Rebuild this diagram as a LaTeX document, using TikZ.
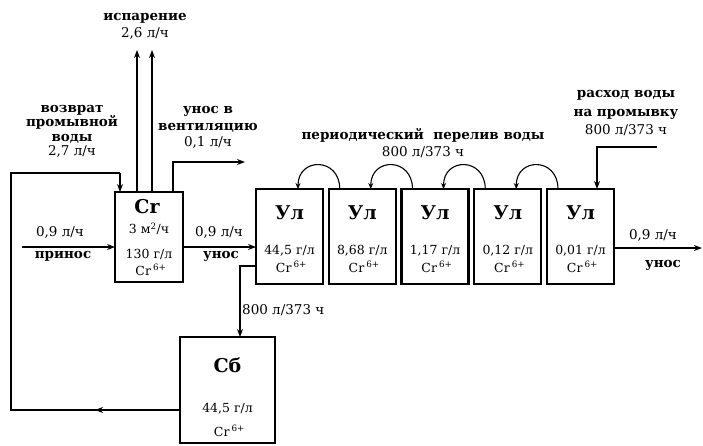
\documentclass[tikz,border=0pt]{standalone}
\usepackage{fontspec}
\setmainfont{DejaVu Serif}
\usetikzlibrary{arrows.meta,calc}
\begin{document}
\begin{tikzpicture}[x=1pt,y=-1pt,
  box/.style={draw,line width=2.2pt,inner sep=0pt,outer sep=0pt,anchor=north west},
  ln/.style={line width=1.2pt},
  arr/.style={line width=1.2pt,-{Stealth[length=8pt,width=6pt]}},
  arcarr/.style={line width=1.1pt,-{Stealth[length=6pt,width=5pt]}},
  big/.style={font=\fontsize{19}{21}\selectfont\bfseries,inner sep=0pt},
  val/.style={font=\fontsize{12.5}{14}\selectfont,inner sep=0pt},
  lab/.style={font=\fontsize{13.5}{15}\selectfont\bfseries,inner sep=0pt,align=center},
  num/.style={font=\fontsize{13.5}{15}\selectfont,inner sep=0pt}
]
\useasboundingbox (0,0) rectangle (703,445);

% boxes
\node[box,minimum width=68pt,minimum height=90pt] (cr) at (115,192) {};
\foreach \i/\x in {1/256,2/328.75,3/401.5,4/474.25,5/547}
  \node[box,minimum width=67pt,minimum height=95pt] (u\i) at (\x,189) {};
\node[box,minimum width=95pt,minimum height=106pt] (sb) at (180,337) {};

% box texts
\node[big] (tcr) at (147,207) {Cr};
\node[val] (cr1) at (149,229) {3 м\textsuperscript{2}/ч};
\node[val] (cr2) at (149,254) {130 г/л};
\node[val] (cr3) at (151,270) {Cr\,\textsuperscript{6+}};
\foreach \i/\x/\v in {1/289.5/{44,5},2/362.25/{8,68},3/435/{1,17},4/507.75/{0,12},5/580.5/{0,01}}{
  \node[big] (tu\i) at (\x,213) {Ул};
  \node[val] (vu\i) at (\x,251) {\v\ г/л};
  \node[val] (cu\i) at (\x+2,267) {Cr\,\textsuperscript{6+}};
}
\node[big] (tsb) at (227.5,365) {Сб};
\node[val] (vsb) at (227.5,409) {44,5 г/л};
\node[val] (csb) at (229.5,431) {Cr\,\textsuperscript{6+}};

% input
\coordinate (in) at (22,247);
\draw[arr] (in) -- (in -| cr.west);
\node[num] (lin1) at (60,232) {0,9 л/ч};
\node[lab] (lin2) at (63,256) {принос};

% Cr -> u1
\coordinate (m1) at (183,247);
\draw[arr] (m1 -| cr.east) -- (m1 -| u1.west);
\node[num] (lm1) at (219,232) {0,9 л/ч};
\node[lab] (lm2) at (221,256) {унос};

% evaporation
\coordinate (ev1) at (137,50);
\coordinate (ev2) at (152,50);
\draw[arr] (ev1 |- cr.north) -- (ev1);
\draw[arr] (ev2 |- cr.north) -- (ev2);
\node[lab,font=\fontsize{13.5}{17}\selectfont\bfseries] (lev) at (145,26.5) {испарение\\\mdseries 2,6 л/ч};

% ventilation
\coordinate (v0) at (173,162);
\coordinate (v1) at (245,162);
\draw[arr] (v0 |- cr.north) -- (v0) -- (v1);
\node[lab,font=\fontsize{13.5}{16.5}\selectfont\bfseries] (lv) at (208,127.5) {унос в\\вентиляцию\\\mdseries 0,1 л/ч};

% return
\coordinate (r1) at (11,410);
\coordinate (r2) at (11,173);
\coordinate (r3) at (120,173);
\coordinate (rm) at (95,410);
\draw[ln] (r1 -| sb.west) -- (r1) -- (r2) -- (r3);
\draw[arr] (r3) -- (r3 |- cr.north);
\draw[arr] (r1 -| sb.west) -- (rm);
\node[lab,font=\fontsize{13.5}{14.5}\selectfont\bfseries] (lr) at (72,131.5) {возврат\\промывной\\воды\\\mdseries 2,7 л/ч};

% u1 -> sb
\coordinate (d1) at (240,266);
\draw[arr] (d1 -| u1.west) -- (d1) -- (d1 |- sb.north);
\node[num,anchor=west] (ld) at (242,310) {800 л/373 ч};

% overflow arcs
\foreach \i/\j in {2/1,3/2,4/3,5/4}
  \draw[arcarr] ($(u\i.north west)+(11,0)$) .. controls +(0,-32) and +(0,-32) .. ($(u\j.north east)+(-25,0)$);
\node[lab,font=\fontsize{13.5}{17}\selectfont\bfseries] (lo) at (423,143.5) {периодический\ \ перелив воды\\\mdseries 800 л/373 ч};

% fresh water
\coordinate (fw) at (657,147);
\coordinate (fw2) at (597,147);
\draw[arr] (fw) -- (fw2) -- (fw2 |- u5.north);
\node[lab,font=\fontsize{13.5}{18.5}\selectfont\bfseries] (lf) at (626,113.5) {расход воды\\на промывку\\\mdseries 800 л/373 ч};

% output
\coordinate (o1) at (702,248);
\draw[arr] (o1 -| u5.east) -- (o1);
\node[num] (lo1) at (653,235) {0,9 л/ч};
\node[lab] (lo2) at (663,265) {унос};
\end{tikzpicture}
\end{document}
